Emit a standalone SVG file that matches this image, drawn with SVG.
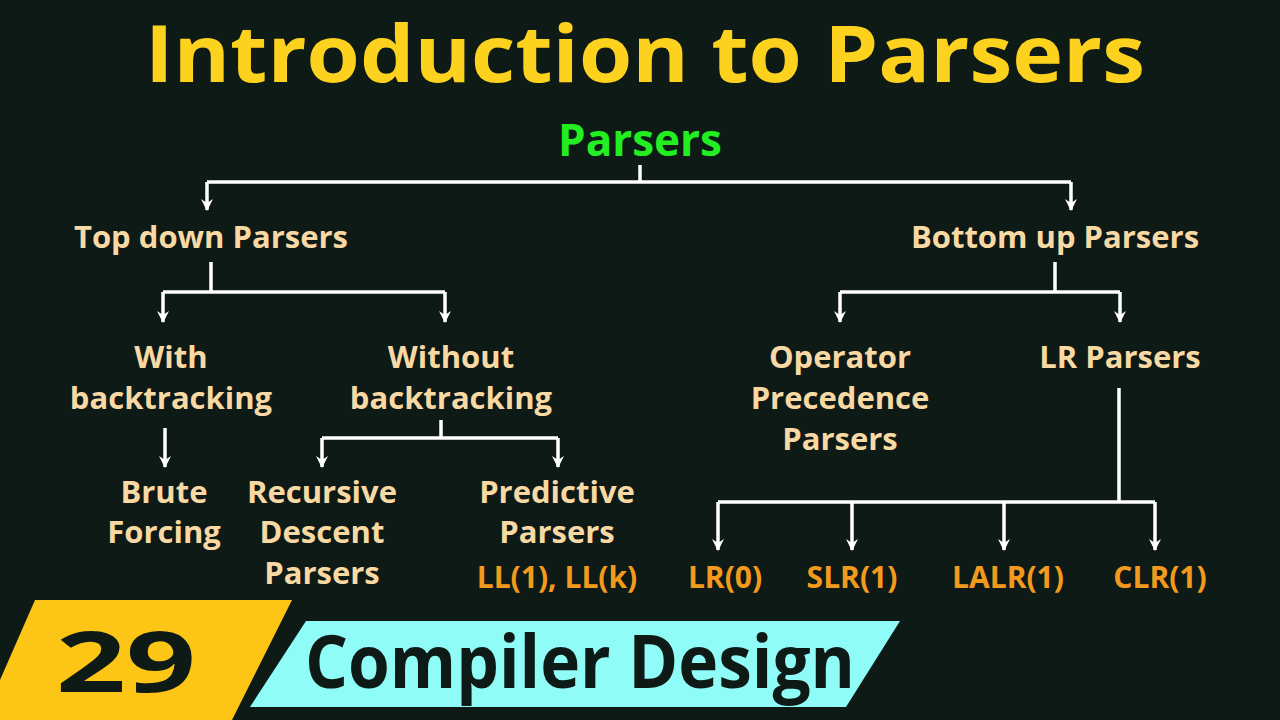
<svg xmlns="http://www.w3.org/2000/svg" width="1280" height="720" viewBox="0 0 1280 720">
<style>
text{font-family:"Open Sans","DejaVu Sans",sans-serif;font-weight:bold;text-anchor:middle}
.n{fill:#f8d9a4;font-size:31px}
.o{fill:#f39a1e;font-size:30px}
.c line,.c path{stroke:#fff;stroke-width:3.5;fill:none}
</style>
<defs>
<marker id="ar" markerWidth="14" markerHeight="14" refX="11" refY="7" orient="auto" markerUnits="userSpaceOnUse"><path d="M0,1 L12,7 L0,13 L4,7 Z" fill="#fff"/></marker></defs>
<rect width="1280" height="720" fill="#0e1a16"/>
<text x="645" y="82" fill="#fdd21f" font-size="78" textLength="1000" lengthAdjust="spacingAndGlyphs">Introduction to Parsers</text>
<g id="parsers"><text x="640" y="156" fill="#22ee22" font-size="44">Parsers</text></g>
<g class="c">
<path d="M640,165 V182 M207,182 H1071"/>
<line x1="207" y1="182" x2="207" y2="210" marker-end="url(#ar)"/>
<line x1="1071" y1="182" x2="1071" y2="210" marker-end="url(#ar)"/>
<path d="M211,262 V292 M163,292 H445"/>
<line x1="163" y1="292" x2="163" y2="322" marker-end="url(#ar)"/>
<line x1="445" y1="292" x2="445" y2="322" marker-end="url(#ar)"/>
<line x1="165" y1="428" x2="165" y2="467" marker-end="url(#ar)"/>
<path d="M441,420 V438 M322,438 H558"/>
<line x1="322" y1="438" x2="322" y2="467" marker-end="url(#ar)"/>
<line x1="558" y1="438" x2="558" y2="467" marker-end="url(#ar)"/>
<path d="M1055,262 V292 M840,292 H1120"/>
<line x1="840" y1="292" x2="840" y2="322" marker-end="url(#ar)"/>
<line x1="1120" y1="292" x2="1120" y2="322" marker-end="url(#ar)"/>
<path d="M1119,388 V502 M718,502 H1155"/>
<line x1="718" y1="502" x2="718" y2="550" marker-end="url(#ar)"/>
<line x1="852" y1="502" x2="852" y2="550" marker-end="url(#ar)"/>
<line x1="1004" y1="502" x2="1004" y2="550" marker-end="url(#ar)"/>
<line x1="1155" y1="502" x2="1155" y2="550" marker-end="url(#ar)"/>
</g>
<g id="topdown"><text class="n" x="211" y="248">Top down Parsers</text></g>
<g id="bottomup"><text class="n" x="1055" y="248">Bottom up Parsers</text></g>
<g id="with"><text class="n" x="171" y="368">With</text><text class="n" x="171" y="409">backtracking</text></g>
<g id="without"><text class="n" x="451" y="368">Without</text><text class="n" x="451" y="409">backtracking</text></g>
<g id="opp"><text class="n" x="840" y="368">Operator</text><text class="n" x="840" y="409">Precedence</text><text class="n" x="840" y="450">Parsers</text></g>
<g id="lr"><text class="n" x="1120" y="368">LR Parsers</text></g>
<g id="brute"><text class="n" x="164" y="503">Brute</text><text class="n" x="164" y="543">Forcing</text></g>
<g id="rec"><text class="n" x="322" y="503">Recursive</text><text class="n" x="322" y="543">Descent</text><text class="n" x="322" y="584">Parsers</text></g>
<g id="pred"><text class="n" x="557" y="503">Predictive</text><text class="n" x="557" y="543">Parsers</text><text class="o" x="557" y="588">LL(1), LL(k)</text></g>
<g id="lr0"><text class="o" x="725" y="588">LR(0)</text></g>
<g id="slr"><text class="o" x="852" y="588">SLR(1)</text></g>
<g id="lalr"><text class="o" x="1008" y="588">LALR(1)</text></g>
<g id="clr"><text class="o" x="1160" y="588">CLR(1)</text></g>
<g id="banner">
<polygon points="35,600 292,600 232,720 0,720 0,680" fill="#fdc516"/>
<text x="126" y="692" font-size="84" fill="#0e1a16" textLength="140" lengthAdjust="spacingAndGlyphs">29</text>
<polygon points="300,616 910,616 852,712 242,712" fill="#0e1a16"/>
<polygon points="306,621 900,621 846,707 250,707" fill="#8ffcf8"/>
<text x="580" y="688" font-size="74" fill="#0e1a16" textLength="550" lengthAdjust="spacingAndGlyphs">Compiler Design</text>
</g>
</svg>
